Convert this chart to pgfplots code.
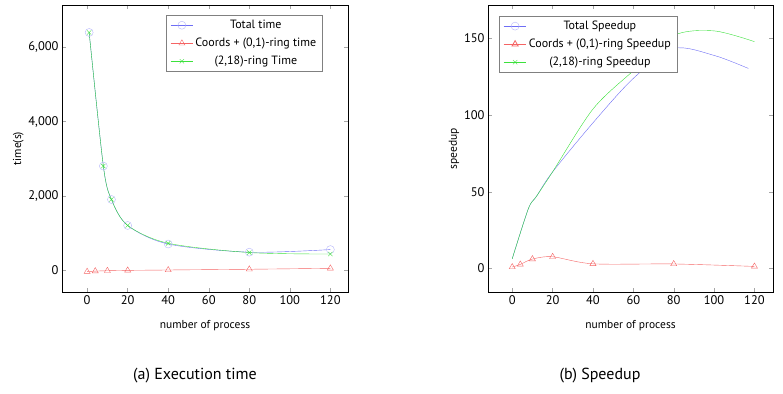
\documentclass[border=0pt]{standalone}
\usepackage{pgfplots}
\pgfplotsset{compat=1.18}
\usepackage{fontspec}
\setmainfont{PT Sans}
\setsansfont{PT Sans}

\pgfplotstableread{
x y
1 6400
8 2800
12 1900
20 1200
40 700
80 480
120 550
}\totaltime
\pgfplotstableread{
x y
0 -45
4 -30
10 -20
20 -10
40 0
80 20
120 45
}\coordstime
\pgfplotstableread{
x y
1 6400
8 2800
12 1900
20 1200
40 720
80 470
120 430
}\ringtime
\pgfplotstableread{
x y
0 6.3
8 39
12 47
20 63
40 95
60 124
80 143.5
100 139
117 130.5
}\totalspeed
\pgfplotstableread{
x y
0 0.9
4 2.6
10 6.1
20 7.6
40 3.0
80 2.9
120 1.3
}\coordsspeed
\pgfplotstableread{
x y
0 6.3
8 39
12 47
20 63
40 104
60 129
80 152
100 155
120 148
}\ringspeed

\definecolor{cblue}{RGB}{110,110,245}
\definecolor{cred}{RGB}{245,100,100}
\definecolor{cgreen}{RGB}{60,225,60}

\pgfplotsset{
  myaxis/.style={
    scale only axis,
    anchor=south west,
    axis line style={black},
    tick style={gray!70, thin},
    major tick length=4pt,
    tick align=inside,
    /pgf/number format/assume math mode=true,
    tick label style={font=\fontsize{12.5}{14}\selectfont},
    label style={font=\fontsize{11.5}{13}\selectfont},
    legend style={font=\fontsize{12}{14}\selectfont, draw=gray, fill=white,
      row sep=4pt, inner xsep=4pt, inner ysep=3pt},
    legend cell align=center,
    legend image code/.code={
      \draw[mark repeat=2,mark phase=2,#1] plot coordinates {(0cm,0cm) (0.4cm,0cm) (0.8cm,0cm)};
    },
    xtick={0,20,40,60,80,100,120},
    xlabel={number of process},
    xlabel style={yshift=-9pt},
  }
}

\begin{document}
\begin{tikzpicture}[x=1pt,y=1pt]
\path (0,0) rectangle (783,-393);

\begin{axis}[myaxis,
  at={(62pt,-292pt)},
  width=286pt, height=287pt,
  xmin=-12.4, xmax=128.7,
  ymin=-593, ymax=7140,
  ytick={0,2000,4000,6000},
  scaled y ticks=false,
  ylabel={time(s)},
  ylabel style={yshift=-2pt},
  legend style={at={(0.364,0.965)}, anchor=north west},
]
\addplot[cblue, thin, smooth, mark=o, mark size=4pt, mark options={draw=cblue!50}] table {\totaltime};
\addlegendentry{Total time}
\addplot[cred, thin, smooth, mark=triangle, mark size=3.5pt] table {\coordstime};
\addlegendentry{Coords + (0,1)-ring time}
\addplot[cgreen, thin, smooth, mark=x, mark size=3pt] table {\ringtime};
\addlegendentry{(2,18)-ring Time}
\end{axis}

\begin{axis}[myaxis,
  at={(488pt,-292pt)},
  width=285pt, height=287pt,
  xmin=-12, xmax=129.2,
  ymin=-15.4, ymax=171.9,
  ytick={0,50,100,150},
  ylabel={speedup},
  ylabel style={yshift=-2pt},
  legend style={at={(0.039,0.962)}, anchor=north west},
]
\addlegendimage{cblue, thin, mark=o, mark size=4pt, mark options={draw=cblue!50}}
\addlegendentry{Total Speedup}
\addlegendimage{cred, thick, mark=triangle, mark size=3.5pt}
\addlegendentry{Coords + (0,1)-ring Speedup}
\addlegendimage{cgreen, thin, mark=x, mark size=3pt}
\addlegendentry{(2,18)-ring Speedup}
\addplot[cblue, thin, smooth, forget plot] table {\totalspeed};
\addplot[cred, thin, smooth, mark=triangle, mark size=3.5pt, forget plot] table {\coordsspeed};
\addplot[cgreen, thin, smooth, forget plot] table {\ringspeed};
\end{axis}

\node[font=\fontsize{16}{18}\selectfont] at (195,-376) {(a) Execution time};
\node[font=\fontsize{16}{18}\selectfont] at (600,-376) {(b) Speedup};
\end{tikzpicture}
\end{document}
